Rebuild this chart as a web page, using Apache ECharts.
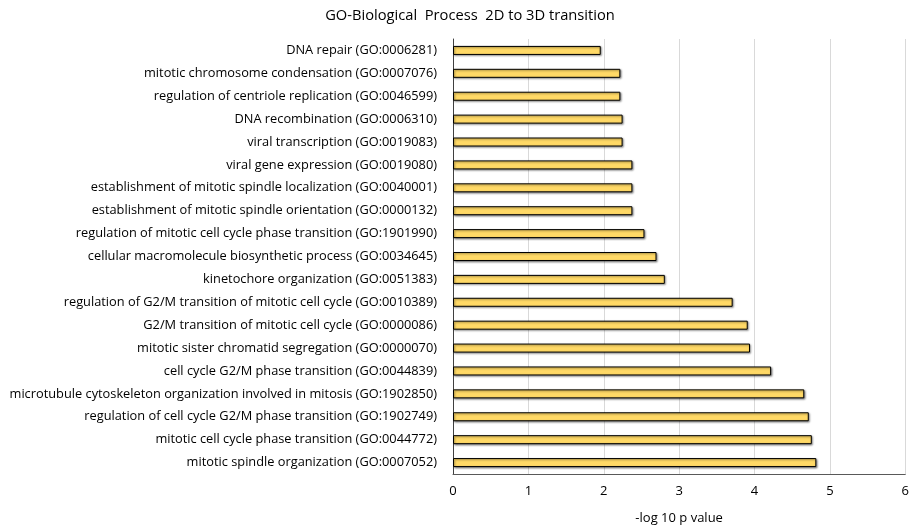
<!DOCTYPE html>
<html>
<head>
<meta charset="utf-8">
<script src="https://cdn.jsdelivr.net/npm/echarts@6/dist/echarts.min.js"></script>
<style>
  html, body { margin: 0; padding: 0; background: #fff; }
  #chart { width: 912px; height: 530px; }
</style>
</head>
<body>
<div id="chart"></div>
<script>
// GO terms, listed top to bottom
const terms = [
  'DNA repair (GO:0006281)',
  'mitotic chromosome condensation (GO:0007076)',
  'regulation of centriole replication (GO:0046599)',
  'DNA recombination (GO:0006310)',
  'viral transcription (GO:0019083)',
  'viral gene expression (GO:0019080)',
  'establishment of mitotic spindle localization (GO:0040001)',
  'establishment of mitotic spindle orientation (GO:0000132)',
  'regulation of mitotic cell cycle phase transition (GO:1901990)',
  'cellular macromolecule biosynthetic process (GO:0034645)',
  'kinetochore organization (GO:0051383)',
  'regulation of G2/M transition of mitotic cell cycle (GO:0010389)',
  'G2/M transition of mitotic cell cycle (GO:0000086)',
  'mitotic sister chromatid segregation (GO:0000070)',
  'cell cycle G2/M phase transition (GO:0044839)',
  'microtubule cytoskeleton organization involved in mitosis (GO:1902850)',
  'regulation of cell cycle G2/M phase transition (GO:1902749)',
  'mitotic cell cycle phase transition (GO:0044772)',
  'mitotic spindle organization (GO:0007052)'
];

// -log10 p value for each term
const negLogP = [
  1.96, 2.22, 2.22, 2.25, 2.25,
  2.38, 2.38, 2.38, 2.54, 2.70,
  2.81, 3.71, 3.91, 3.94, 4.22,
  4.66, 4.72, 4.76, 4.82
];

const xTicks = [0, 1, 2, 3, 4, 5, 6];

const font = 'Open Sans, Noto Sans, sans-serif';
const chart = echarts.init(document.getElementById('chart'));
chart.setOption({
  animation: false,
  backgroundColor: '#ffffff',
  title: {
    text: 'GO-Biological  Process  2D to 3D transition',
    left: 465,
    textAlign: 'center',
    top: 3,
    textStyle: { fontFamily: font, fontSize: 14.7, fontWeight: 'normal', color: '#000' }
  },
  grid: { left: 453, right: 4, top: 39, bottom: 55, containLabel: false },
  xAxis: {
    type: 'value',
    min: xTicks[0],
    max: xTicks[xTicks.length - 1],
    interval: 1,
    name: '-log 10 p value',
    nameLocation: 'middle',
    nameGap: 38,
    nameTextStyle: { fontFamily: font, fontSize: 13, color: '#000' },
    axisLine: { show: true, lineStyle: { color: '#595959', width: 1 } },
    axisTick: { show: false },
    axisLabel: { fontFamily: font, fontSize: 13, color: '#000', margin: 11 },
    splitLine: { show: true, lineStyle: { color: '#d9d9d9', width: 1 } }
  },
  yAxis: {
    type: 'category',
    data: terms,
    inverse: true,
    axisLine: { show: true, lineStyle: { color: '#404040', width: 1 } },
    axisTick: { show: false },
    axisLabel: { fontFamily: font, fontSize: 12.8, color: '#000', margin: 16 }
  },
  series: [{
    type: 'bar',
    data: negLogP,
    barWidth: 9,
    itemStyle: {
      color: '#ffd966',
      borderColor: '#000',
      borderWidth: 1,
      shadowColor: 'rgba(0,0,0,0.45)',
      shadowBlur: 2,
      shadowOffsetX: 1,
      shadowOffsetY: 1
    }
  }]
});
</script>
</body>
</html>
